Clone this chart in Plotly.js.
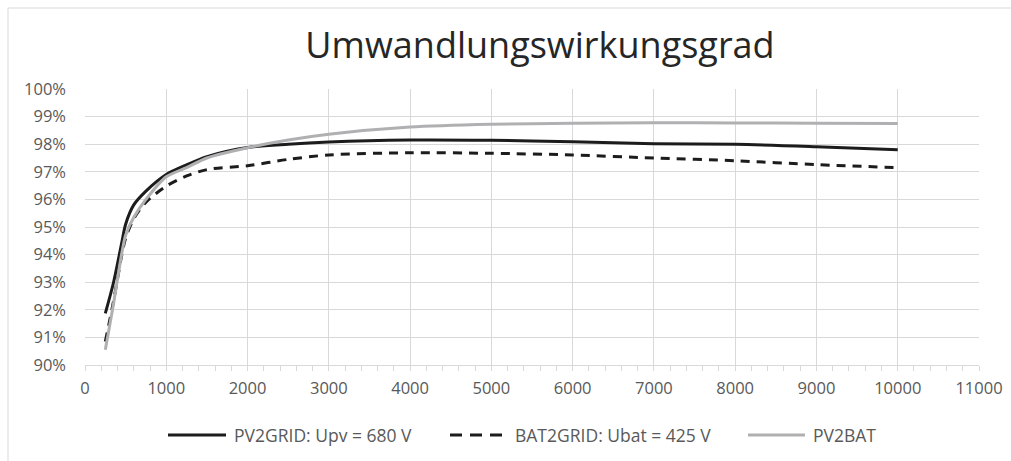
<!DOCTYPE html>
<html>
<head>
<meta charset="utf-8">
<script src="https://cdn.plot.ly/plotly-3.0.1.min.js"></script>
<style>
html,body{margin:0;padding:0;background:#fff;}
#chart{width:1011px;height:461px;}
</style>
</head>
<body>
<div id="chart"></div>
<script>
// Power (W)
const xPower = [250, 350, 450, 500, 600, 750, 1000, 1250, 1500, 2000, 2500, 3000, 4000, 5000, 6000, 7000, 8000, 9000, 10000];
// Efficiency (%)
const pv2grid = [91.87, 92.98, 94.4, 95.1, 95.8, 96.3, 96.9, 97.25, 97.55, 97.88, 98.0, 98.08, 98.15, 98.14, 98.09, 98.02, 98.0, 97.91, 97.8];
const bat2grid = [90.85, 92.3, 93.95, 94.6, 95.3, 95.9, 96.48, 96.85, 97.08, 97.22, 97.45, 97.61, 97.69, 97.67, 97.61, 97.5, 97.4, 97.26, 97.15];
const pv2bat = [90.55, 92.2, 94.0, 94.7, 95.35, 96.0, 96.82, 97.15, 97.5, 97.87, 98.15, 98.36, 98.62, 98.72, 98.76, 98.78, 98.77, 98.76, 98.75];
const seriesNames = ["PV2GRID: Upv = 680 V", "BAT2GRID: Ubat = 425 V", "PV2BAT"];
const chartTitle = "Umwandlungswirkungsgrad";
const xTicks = [0, 1000, 2000, 3000, 4000, 5000, 6000, 7000, 8000, 9000, 10000, 11000];

const font = "'Open Sans', 'DejaVu Sans', sans-serif";
const styles = [
  {color: '#1c1c1c', width: 3, dash: 'solid'},
  {color: '#1c1c1c', width: 3, dash: '9px,7px'},
  {color: '#b0b0b2', width: 3, dash: 'solid'}
];
const seriesData = [pv2grid, bat2grid, pv2bat];
const traces = seriesData.map((ys, i) => ({
  x: xPower, y: ys, name: seriesNames[i], mode: 'lines', showlegend: false,
  line: {color: styles[i].color, width: styles[i].width, dash: styles[i].dash, shape: 'spline', smoothing: 0.8}
}));

const L = 85, R = 32, T = 89, B = 96, W = 1011, H = 461;
const pw = W - L - R, ph = H - T - B;
const px = v => (v - L) / pw;          // pixel -> paper x
const py = v => (H - B - v) / ph;      // pixel -> paper y

// custom legend (sample line + text)
const legendY = 435;
const legendSamples = [[168, 226], [450, 508], [748, 805]];
const legendTextX = [232, 513, 811];
const shapes = [
  {type: 'line', xref: 'paper', yref: 'paper',
   x0: px(8), x1: px(W + 5), y0: py(8), y1: py(8), line: {color: '#d9d9d9', width: 1}},
  {type: 'line', xref: 'paper', yref: 'paper',
   x0: px(8), x1: px(8), y0: py(8), y1: py(H + 5), line: {color: '#d9d9d9', width: 1}}
];
const annotations = [];
seriesNames.forEach((n, i) => {
  shapes.push({type: 'line', xref: 'paper', yref: 'paper',
    x0: px(legendSamples[i][0]), x1: px(legendSamples[i][1]), y0: py(legendY), y1: py(legendY),
    line: {color: styles[i].color, width: 3, dash: i === 1 ? '12px,8px' : 'solid'}});
  annotations.push({xref: 'paper', yref: 'paper', x: px(legendTextX[i]), y: py(legendY),
    xanchor: 'left', yanchor: 'middle', text: n, showarrow: false,
    font: {family: font, size: 17.5, color: '#595959'}});
});

const layout = {
  width: W, height: H,
  margin: {l: L, r: R, t: T, b: B},
  paper_bgcolor: '#fff', plot_bgcolor: '#fff',
  font: {family: font, color: '#595959'},
  title: {text: chartTitle, font: {family: font, size: 36, color: '#262626'},
          x: 540 / W, xref: 'container', xanchor: 'center',
          y: 1 - 45 / H, yref: 'container', yanchor: 'middle'},
  xaxis: {range: [0, 11000], tickvals: xTicks, ticktext: xTicks.map(String),
          showgrid: true, gridcolor: '#d9d9d9', gridwidth: 1,
          showline: true, linecolor: '#d9d9d9', linewidth: 1,
          ticks: 'outside', ticklen: 5, tickcolor: '#d9d9d9',
          minor: {dtick: 200, ticks: 'outside', ticklen: 5, tickcolor: '#d9d9d9', showgrid: false},
          tickfont: {family: font, size: 16.5, color: '#595959'},
          ticklabelstandoff: 3, zeroline: false, fixedrange: true},
  yaxis: {range: [90, 100], dtick: 1, ticksuffix: '%',
          showgrid: true, gridcolor: '#d9d9d9', gridwidth: 1,
          showline: false, ticks: '', zeroline: false,
          tickfont: {family: font, size: 16.5, color: '#595959'},
          ticklabelstandoff: 18, fixedrange: true},
  shapes: shapes,
  annotations: annotations,
  showlegend: false
};
Plotly.newPlot('chart', traces, layout, {displayModeBar: false, staticPlot: true});
</script>
</body>
</html>
